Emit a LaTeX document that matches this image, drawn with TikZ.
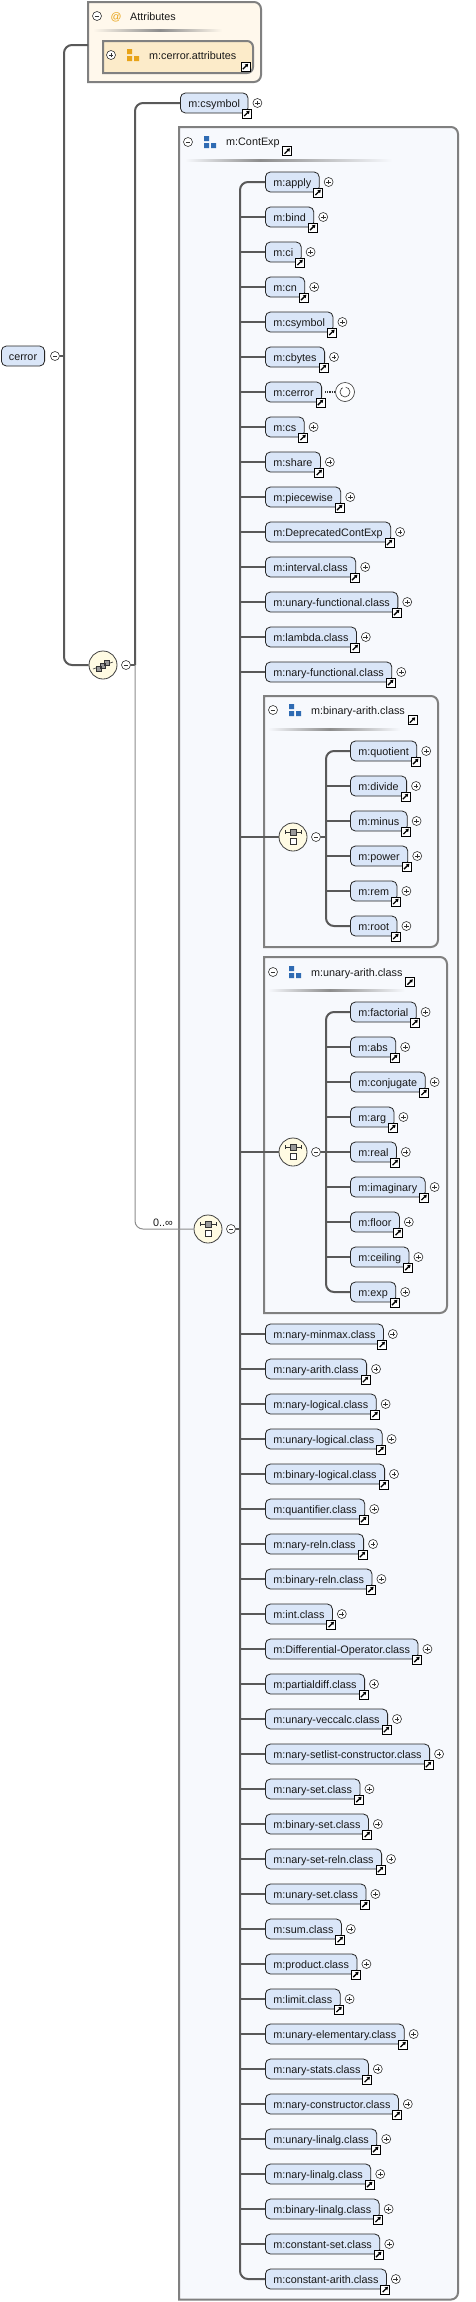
\documentclass[tikz,border=0pt]{standalone}
\usepackage{fontspec}
\setmainfont{Liberation Sans}
\usepackage{xcolor}
\usetikzlibrary{arrows.meta}

\definecolor{elemfill}{HTML}{DAE6F8}
\definecolor{grpfill}{HTML}{F7F9FD}
\definecolor{attrfill}{HTML}{FFF8EC}
\definecolor{attrinfill}{HTML}{FCEBC9}
\definecolor{compfill}{HTML}{FFFBE3}
\definecolor{linegray}{HTML}{595959}
\definecolor{thingray}{HTML}{8C8C8C}
\definecolor{boxgray}{HTML}{808080}
\definecolor{iconblue}{HTML}{2F6BB3}
\definecolor{attrorange}{HTML}{E8A317}

\tikzset{
  txt/.style={font=\fontsize{10.8pt}{13pt}\selectfont, text=black!90, text height=9pt, text depth=1pt},
  hdr/.style={txt, anchor=west, inner sep=0pt},
  link/.style={draw=black, fill=white, sharp corners, rectangle, minimum size=9pt, inner sep=0pt, line width=0.8pt,
    path picture={\draw[line width=1.3pt,-{Triangle[length=3pt,width=3.6pt]}]
      ([shift={(-2.7pt,-2.7pt)}]path picture bounding box.center) -- ([shift={(2.7pt,2.7pt)}]path picture bounding box.center);}},
  minusbtn/.style={circle, draw=black!80, fill=white, minimum size=9pt, inner sep=0pt, line width=0.6pt,
    path picture={\draw[line width=0.6pt] ([xshift=-2.4pt]path picture bounding box.center) -- ([xshift=2.4pt]path picture bounding box.center);}},
  plusbtn/.style={minusbtn,
    path picture={\draw[line width=0.6pt] ([xshift=-2.4pt]path picture bounding box.center) -- ([xshift=2.4pt]path picture bounding box.center)
      ([yshift=-2.4pt]path picture bounding box.center) -- ([yshift=2.4pt]path picture bounding box.center);}},
  rootel/.style={txt, draw=black!85, fill=elemfill, rounded corners=5pt, minimum height=20pt, inner xsep=7.5pt, inner ysep=0pt, anchor=west, line width=0.8pt},
  elembase/.style={rootel, inner xsep=8pt, label={[link,anchor=center,xshift=-1.5pt]south east:{}}},
  elem/.style={elembase, label={[plusbtn,anchor=center,xshift=9pt]east:{}}},
  comp/.style={circle, draw=black!75, fill=compfill, minimum size=28pt, inner sep=0pt, line width=0.8pt},
  choicesym/.style={comp, path picture={
    \coordinate (pc) at (path picture bounding box.center);
    \draw[black!80, line width=0.6pt] ([shift={(-8pt,5pt)}]pc) -- ([shift={(8pt,5pt)}]pc)
      ([shift={(-8pt,3pt)}]pc) -- ([shift={(-8pt,7pt)}]pc) ([shift={(8pt,3pt)}]pc) -- ([shift={(8pt,7pt)}]pc);
    \filldraw[fill=black!40, draw=black!80, line width=0.5pt] ([shift={(-2.8pt,2.2pt)}]pc) rectangle ([shift={(2.8pt,7.8pt)}]pc);
    \filldraw[fill=white, draw=black!80, line width=0.6pt] ([shift={(-3pt,-7pt)}]pc) rectangle ([shift={(3pt,-1pt)}]pc);}},
  seqsym/.style={comp, path picture={
    \coordinate (pc) at (path picture bounding box.center);
    \draw[black!80, line width=0.6pt] ([shift={(-10pt,-4pt)}]pc) -- ([shift={(10pt,3pt)}]pc);
    \filldraw[fill=black!40, draw=black!80, line width=0.5pt] ([shift={(-7pt,-6pt)}]pc) rectangle ++(5pt,5pt)
      ([shift={(-3pt,-3pt)}]pc) rectangle ++(5pt,5pt) ([shift={(1pt,0pt)}]pc) rectangle ++(5pt,5pt);}},
  recsym/.style={circle, draw=black!80, fill=white, minimum size=19pt, inner sep=0pt, line width=0.6pt, path picture={
    \coordinate (pc) at (path picture bounding box.center);
    \draw[line width=0.6pt] (pc) circle[radius=5pt];
    \fill ([shift={(-2pt,3pt)}]pc) -- ([shift={(-2pt,7.5pt)}]pc) -- ([shift={(1.5pt,5pt)}]pc) -- cycle;}},
  conn/.style={draw=linegray, line width=2pt},
  thinconn/.style={draw=thingray, line width=1pt},
  grpbox/.style={draw=boxgray, fill=grpfill, line width=2pt},
  attrbox/.style={draw=boxgray, fill=attrfill, line width=2pt},
  attrinbox/.style={draw=boxgray, fill=attrinfill, line width=2pt},
}

\begin{document}
\begin{tikzpicture}[x=1pt,y=-1pt]
\path[fill=white,use as bounding box] (0,0) rectangle (476,2302);

% attributes box
\path[attrbox] (88,2) [rounded corners=7pt] -- (261,2) -- (261,82) [sharp corners] -- (88,82) -- cycle;
\node[minusbtn] (attrm) at (97,16) {};
\node[hdr, anchor=center, text=attrorange] (attrat) at (116,16) {@};
\node[hdr] (attrhdr) at (130,16) {Attributes};
\shade[left color=attrfill, right color=black!45] (93,29) rectangle (160,31);
\shade[left color=black!45, right color=attrfill] (160,29) rectangle (222,31);
\path[attrinbox] (103,41) [rounded corners=6pt] -- (253,41) -- (253,73) [sharp corners] -- (103,73) -- cycle;
\node[plusbtn] (cattrp) at (111,55) {};
\fill[attrorange] (127,49) rectangle ++(5,5) (127,56) rectangle ++(5,5) (134,56) rectangle ++(5,5);
\node[hdr] (cattr) at (149,55) {m:cerror.attributes};
\node[link] (cattrl) at (245.5,66.5) {};

% m:ContExp group
\path[grpbox] (179,127) [rounded corners=7pt] -- (458,127) -- (458,2299.5) [sharp corners] -- (179,2299.5) -- cycle;
\node[minusbtn] (cem) at (188,142) {};
\fill[iconblue] (204,136) rectangle ++(5,5) (204,143) rectangle ++(5,5) (211,143) rectangle ++(5,5);
\node[hdr] (cehdr) at (226,141) {m:ContExp};
\node[link] (cehdrl) at ([shift={(7.5pt,-10pt)}]cehdr.east) {};
\shade[left color=grpfill, right color=black!45] (185,159) rectangle (260,161);
\shade[left color=black!45, right color=grpfill] (260,159) rectangle (392,161);

% m:binary-arith.class group
\path[grpbox] (264,696) [rounded corners=7pt] -- (438,696) -- (438,947) [sharp corners] -- (264,947) -- cycle;
\node[minusbtn] (bam) at (273,710) {};
\fill[iconblue] (289,704) rectangle ++(5,5) (289,711) rectangle ++(5,5) (296,711) rectangle ++(5,5);
\node[hdr] (bahdr) at (311,710) {m:binary-arith.class};
\node[link] (bahdrl) at ([shift={(7.5pt,-10pt)}]bahdr.east) {};
\shade[left color=grpfill, right color=black!45] (268,728) rectangle (330,730);
\shade[left color=black!45, right color=grpfill] (330,728) rectangle (400,730);

% m:unary-arith.class group
\path[grpbox] (264,957) [rounded corners=7pt] -- (447,957) -- (447,1313) [sharp corners] -- (264,1313) -- cycle;
\node[minusbtn] (uam) at (273,972) {};
\fill[iconblue] (289,966) rectangle ++(5,5) (289,973) rectangle ++(5,5) (296,973) rectangle ++(5,5);
\node[hdr] (uahdr) at (311,972) {m:unary-arith.class};
\node[link] (uahdrl) at ([shift={(7.5pt,-10pt)}]uahdr.east) {};
\shade[left color=grpfill, right color=black!45] (268,989) rectangle (330,991);
\shade[left color=black!45, right color=grpfill] (330,989) rectangle (405,991);

% root, compositors
\node[rootel] (cerror) at (1,356) {cerror};
\node[minusbtn] (cerrorm) at (55,356) {};
\node[seqsym] (seq) at (103,665) {};
\node[minusbtn] (seqm) at (126,665) {};
\node[elem] (csymbol) at (180,103) {m:csymbol};
\node[choicesym] (mainch) at (208,1229) {};
\node[minusbtn] (mainchm) at (231,1229) {};
\node[hdr, anchor=center] (card) at (163,1222) {0..∞};
\node[choicesym] (bach) at (293,837) {};
\node[minusbtn] (bachm) at (316,837) {};
\node[choicesym] (uach) at (293,1152) {};
\node[minusbtn] (uachm) at (316,1152) {};

\coordinate (lbar) at (64,0);
\coordinate (sbar) at (135,0);
\coordinate (bar) at (240,0);
\coordinate (babar) at (326,0);
\coordinate (uabar) at (326,0);
\coordinate (attrin) at (88,45);

% choice children
\node[elem] (apply) at (265,182) {m:apply};
\node[elem] (bind) at (265,217) {m:bind};
\node[elem] (ci) at (265,252) {m:ci};
\node[elem] (cn) at (265,287) {m:cn};
\node[elem] (csymbolb) at (265,322) {m:csymbol};
\node[elem] (cbytes) at (265,357) {m:cbytes};
\node[elembase] (mcerror) at (265,392) {m:cerror};
\node[recsym] (recur) at (345,392) {};
\node[elem] (cs) at (265,427) {m:cs};
\node[elem] (share) at (265,462) {m:share};
\node[elem] (piecewise) at (265,497) {m:piecewise};
\node[elem] (deprecated) at (265,532) {m:DeprecatedContExp};
\node[elem] (interval) at (265,567) {m:interval.class};
\node[elem] (unfunc) at (265,602) {m:unary-functional.class};
\node[elem] (lambda) at (265,637) {m:lambda.class};
\node[elem] (naryfunc) at (265,672) {m:nary-functional.class};
\node[elem] (quotient) at (350,751) {m:quotient};
\node[elem] (divide) at (350,786) {m:divide};
\node[elem] (minus) at (350,821) {m:minus};
\node[elem] (power) at (350,856) {m:power};
\node[elem] (rem) at (350,891) {m:rem};
\node[elem] (root) at (350,926) {m:root};
\node[elem] (factorial) at (350,1012) {m:factorial};
\node[elem] (abs) at (350,1047) {m:abs};
\node[elem] (conjugate) at (350,1082) {m:conjugate};
\node[elem] (arg) at (350,1117) {m:arg};
\node[elem] (real) at (350,1152) {m:real};
\node[elem] (imaginary) at (350,1187) {m:imaginary};
\node[elem] (floor) at (350,1222) {m:floor};
\node[elem] (ceiling) at (350,1257) {m:ceiling};
\node[elem] (exp) at (350,1292) {m:exp};
\node[elem] (minmax) at (265,1334) {m:nary-minmax.class};
\node[elem] (naryarith) at (265,1369) {m:nary-arith.class};
\node[elem] (narylog) at (265,1404) {m:nary-logical.class};
\node[elem] (unlog) at (265,1439) {m:unary-logical.class};
\node[elem] (binlog) at (265,1474) {m:binary-logical.class};
\node[elem] (quant) at (265,1509) {m:quantifier.class};
\node[elem] (naryreln) at (265,1544) {m:nary-reln.class};
\node[elem] (binreln) at (265,1579) {m:binary-reln.class};
\node[elem] (int) at (265,1614) {m:int.class};
\node[elem] (diffop) at (265,1649) {m:Differential-Operator.class};
\node[elem] (partial) at (265,1684) {m:partialdiff.class};
\node[elem] (veccalc) at (265,1719) {m:unary-veccalc.class};
\node[elem] (setlist) at (265,1754) {m:nary-setlist-constructor.class};
\node[elem] (naryset) at (265,1789) {m:nary-set.class};
\node[elem] (binset) at (265,1824) {m:binary-set.class};
\node[elem] (setreln) at (265,1859) {m:nary-set-reln.class};
\node[elem] (unset) at (265,1894) {m:unary-set.class};
\node[elem] (sum) at (265,1929) {m:sum.class};
\node[elem] (product) at (265,1964) {m:product.class};
\node[elem] (limit) at (265,1999) {m:limit.class};
\node[elem] (unelem) at (265,2034) {m:unary-elementary.class};
\node[elem] (stats) at (265,2069) {m:nary-stats.class};
\node[elem] (constr) at (265,2104) {m:nary-constructor.class};
\node[elem] (unlinalg) at (265,2139) {m:unary-linalg.class};
\node[elem] (narylinalg) at (265,2174) {m:nary-linalg.class};
\node[elem] (binlinalg) at (265,2209) {m:binary-linalg.class};
\node[elem] (constset) at (265,2244) {m:constant-set.class};
\node[elem] (constarith) at (265,2279) {m:constant-arith.class};

% connectors
\draw[conn] (cerrorm) -- (lbar |- cerrorm);
\draw[conn,rounded corners=8pt] (attrin) -| (lbar |- seq) -- (seq);
\draw[conn] (seqm) -- (sbar |- seqm);
\draw[conn,rounded corners=8pt] (sbar |- seqm) |- (csymbol);
\draw[thinconn,rounded corners=8pt] (sbar |- seqm) |- (mainch);
\draw[conn] (mainchm) -- (bar |- mainchm);
\draw[conn,rounded corners=8pt] (apply) -| (bar |- constarith) -- (constarith);
\draw[conn] (bar |- bind) -- (bind);
\draw[conn] (bar |- ci) -- (ci);
\draw[conn] (bar |- cn) -- (cn);
\draw[conn] (bar |- csymbolb) -- (csymbolb);
\draw[conn] (bar |- cbytes) -- (cbytes);
\draw[conn] (bar |- mcerror) -- (mcerror);
\draw[black!80, densely dotted, line width=1.2pt] ([xshift=3pt]mcerror.east) -- (recur);
\draw[conn] (bar |- cs) -- (cs);
\draw[conn] (bar |- share) -- (share);
\draw[conn] (bar |- piecewise) -- (piecewise);
\draw[conn] (bar |- deprecated) -- (deprecated);
\draw[conn] (bar |- interval) -- (interval);
\draw[conn] (bar |- unfunc) -- (unfunc);
\draw[conn] (bar |- lambda) -- (lambda);
\draw[conn] (bar |- naryfunc) -- (naryfunc);
\draw[conn] (bar |- bach) -- (bach);
\draw[conn] (bachm) -- (babar |- bachm);
\draw[conn,rounded corners=8pt] (quotient) -| (babar |- root) -- (root);
\draw[conn] (babar |- divide) -- (divide);
\draw[conn] (babar |- minus) -- (minus);
\draw[conn] (babar |- power) -- (power);
\draw[conn] (babar |- rem) -- (rem);
\draw[conn] (bar |- uach) -- (uach);
\draw[conn] (uachm) -- (uabar |- uachm);
\draw[conn,rounded corners=8pt] (factorial) -| (uabar |- exp) -- (exp);
\draw[conn] (uabar |- abs) -- (abs);
\draw[conn] (uabar |- conjugate) -- (conjugate);
\draw[conn] (uabar |- arg) -- (arg);
\draw[conn] (uabar |- real) -- (real);
\draw[conn] (uabar |- imaginary) -- (imaginary);
\draw[conn] (uabar |- floor) -- (floor);
\draw[conn] (uabar |- ceiling) -- (ceiling);
\draw[conn] (bar |- minmax) -- (minmax);
\draw[conn] (bar |- naryarith) -- (naryarith);
\draw[conn] (bar |- narylog) -- (narylog);
\draw[conn] (bar |- unlog) -- (unlog);
\draw[conn] (bar |- binlog) -- (binlog);
\draw[conn] (bar |- quant) -- (quant);
\draw[conn] (bar |- naryreln) -- (naryreln);
\draw[conn] (bar |- binreln) -- (binreln);
\draw[conn] (bar |- int) -- (int);
\draw[conn] (bar |- diffop) -- (diffop);
\draw[conn] (bar |- partial) -- (partial);
\draw[conn] (bar |- veccalc) -- (veccalc);
\draw[conn] (bar |- setlist) -- (setlist);
\draw[conn] (bar |- naryset) -- (naryset);
\draw[conn] (bar |- binset) -- (binset);
\draw[conn] (bar |- setreln) -- (setreln);
\draw[conn] (bar |- unset) -- (unset);
\draw[conn] (bar |- sum) -- (sum);
\draw[conn] (bar |- product) -- (product);
\draw[conn] (bar |- limit) -- (limit);
\draw[conn] (bar |- unelem) -- (unelem);
\draw[conn] (bar |- stats) -- (stats);
\draw[conn] (bar |- constr) -- (constr);
\draw[conn] (bar |- unlinalg) -- (unlinalg);
\draw[conn] (bar |- narylinalg) -- (narylinalg);
\draw[conn] (bar |- binlinalg) -- (binlinalg);
\draw[conn] (bar |- constset) -- (constset);
\end{tikzpicture}
\end{document}
